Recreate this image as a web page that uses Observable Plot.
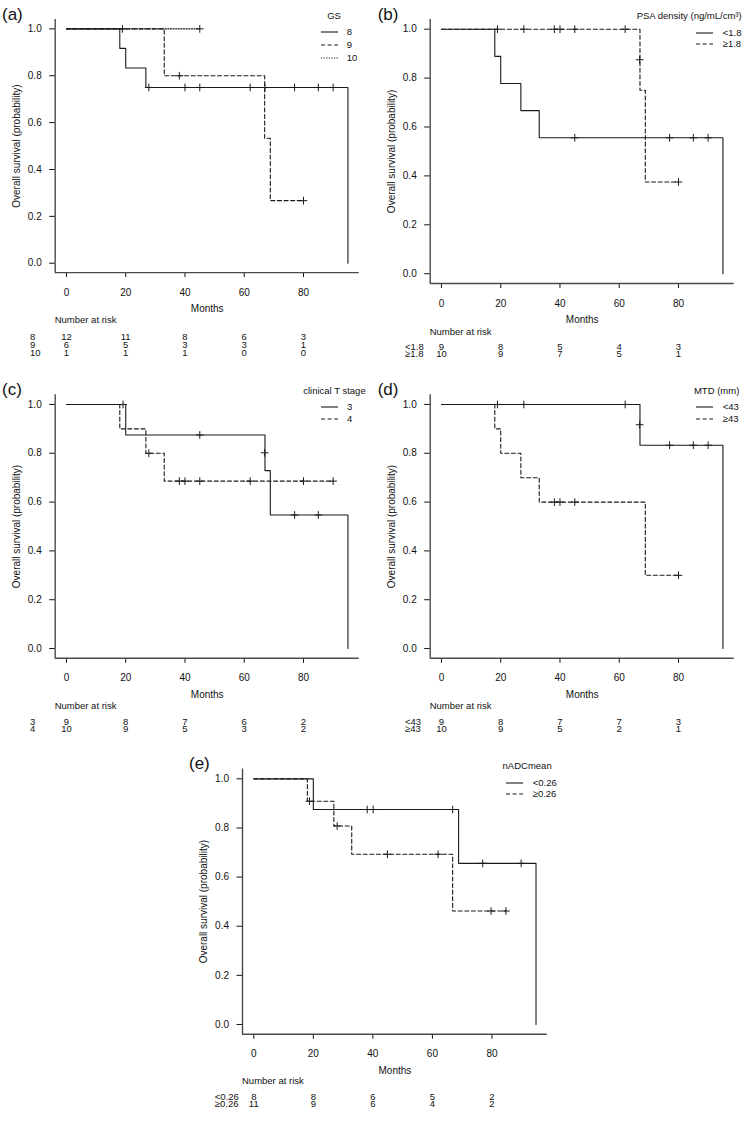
<!DOCTYPE html>
<html>
<head>
<meta charset="utf-8">
<script src="https://cdn.jsdelivr.net/npm/d3@7"></script>
<script src="https://cdn.jsdelivr.net/npm/@observablehq/plot@0.6"></script>
<style>
  html, body { margin: 0; padding: 0; background: #fff; }
  #figure {
    position: relative; width: 750px; height: 1125px; overflow: hidden;
    font-family: "Liberation Sans", Arial, Helvetica, sans-serif; color: #111;
  }
  #figure .lbl { position: absolute; white-space: nowrap; }
</style>
</head>
<body>
<div id="figure"></div>
<script>
// ---- shared axes ----
const monthTicks = [0, 20, 40, 60, 80];
const survTicks = [0, 0.2, 0.4, 0.6, 0.8, 1.0];

// ---- (a) Gleason score ----
const gsGroups = ["8", "9", "10"];
const gs8Time = [0, 18, 20, 26.8, 95];
const gs8Surv = [1, 0.917, 0.833, 0.75, 0];
const gs8CensorTime = [27.8, 40, 45, 62, 67, 77, 85, 90];
const gs8CensorSurv = [0.75, 0.75, 0.75, 0.75, 0.75, 0.75, 0.75, 0.75];
const gs9Time = [0, 33, 66.9, 68.8, 80];
const gs9Surv = [1, 0.8, 0.533, 0.267, 0.267];
const gs9CensorTime = [18.9, 38.1, 80];
const gs9CensorSurv = [1, 0.8, 0.267];
const gs10Time = [0, 45];
const gs10Surv = [1, 1];
const gs10CensorTime = [45];
const gs10CensorSurv = [1];
const gs8Risk = [12, 11, 8, 6, 3];
const gs9Risk = [6, 5, 3, 3, 1];
const gs10Risk = [1, 1, 1, 0, 0];

// ---- (b) PSA density ----
const psaGroups = ["<1.8", "≥1.8"];
const psaLowTime = [0, 18, 20, 26.8, 33, 95];
const psaLowSurv = [1, 0.889, 0.778, 0.667, 0.556, 0];
const psaLowCensorTime = [45, 77, 85, 90];
const psaLowCensorSurv = [0.556, 0.556, 0.556, 0.556];
const psaHighTime = [0, 67, 68.8, 80];
const psaHighSurv = [1, 0.75, 0.375, 0.375];
const psaHighCensorTime = [18.9, 27.8, 38.1, 40, 45, 62, 66.9, 80];
const psaHighCensorSurv = [1, 1, 1, 1, 1, 1, 0.875, 0.375];
const psaLowRisk = [9, 8, 5, 4, 3];
const psaHighRisk = [10, 9, 7, 5, 1];

// ---- (c) clinical T stage ----
const tGroups = ["3", "4"];
const t3Time = [0, 20, 67, 68.8, 95];
const t3Surv = [1, 0.875, 0.729, 0.547, 0];
const t3CensorTime = [19.1, 45, 66.9, 77, 85];
const t3CensorSurv = [1, 0.875, 0.802, 0.547, 0.547];
const t4Time = [0, 18, 26.8, 33, 90];
const t4Surv = [1, 0.9, 0.8, 0.686, 0.686];
const t4CensorTime = [27.8, 38.1, 40, 45, 62, 80, 90];
const t4CensorSurv = [0.8, 0.686, 0.686, 0.686, 0.686, 0.686, 0.686];
const t3Risk = [9, 8, 7, 6, 2];
const t4Risk = [10, 9, 5, 3, 2];

// ---- (d) maximum tumour diameter ----
const mtdGroups = ["<43", "≥43"];
const mtdLowTime = [0, 67, 95];
const mtdLowSurv = [1, 0.833, 0];
const mtdLowCensorTime = [18.9, 27.8, 62, 66.9, 77, 85, 90];
const mtdLowCensorSurv = [1, 1, 1, 0.917, 0.833, 0.833, 0.833];
const mtdHighTime = [0, 18, 20, 26.8, 33, 68.8, 80];
const mtdHighSurv = [1, 0.9, 0.8, 0.7, 0.6, 0.3, 0.3];
const mtdHighCensorTime = [38.1, 40, 45, 80];
const mtdHighCensorSurv = [0.6, 0.6, 0.6, 0.3];
const mtdLowRisk = [9, 8, 7, 7, 3];
const mtdHighRisk = [10, 9, 5, 2, 1];

// ---- (e) normalised mean ADC ----
const adcGroups = ["<0.26", "≥0.26"];
const adcLowTime = [0, 20, 68.8, 94.8];
const adcLowSurv = [1, 0.875, 0.656, 0];
const adcLowCensorTime = [38.1, 40.1, 66.8, 76.9, 89.8];
const adcLowCensorSurv = [0.875, 0.875, 0.875, 0.656, 0.656];
const adcHighTime = [0, 18, 26.9, 32.9, 66.8, 84.7];
const adcHighSurv = [1, 0.909, 0.808, 0.693, 0.462, 0.462];
const adcHighCensorTime = [18.7, 28, 44.9, 61.9, 79.7, 84.7];
const adcHighCensorSurv = [0.909, 0.808, 0.693, 0.693, 0.462, 0.462];
const adcLowRisk = [8, 8, 6, 5, 2];
const adcHighRisk = [11, 9, 6, 4, 2];

// ---- styling ----
const FONT = '"Liberation Sans", Arial, Helvetica, sans-serif';
const INK = "#1a1a1a";
const AXIS = "#4a4a4a";
const DASHED = "4,2.6";
const DOTTED = "1.2,1.4";

const figure = document.getElementById("figure");

function addLabel(text, x, y, size, anchor = "start") {
  const el = document.createElement("div");
  el.className = "lbl";
  el.textContent = text;
  const tx = anchor === "start" ? "0" : anchor === "end" ? "-100%" : "-50%";
  el.style.cssText += `left:${x}px;top:${y}px;font-size:${size}px;line-height:${size}px;transform:translate(${tx},-50%);`;
  figure.appendChild(el);
}

function addSwatch(x1, x2, y, dash) {
  const svg = d3.create("svg")
    .attr("width", x2 - x1).attr("height", 4)
    .style("position", "absolute").style("left", `${x1}px`).style("top", `${y - 2}px`);
  svg.append("line")
    .attr("x1", 0).attr("x2", x2 - x1).attr("y1", 2).attr("y2", 2)
    .attr("stroke", INK).attr("stroke-width", 1.1)
    .attr("stroke-dasharray", dash || null);
  figure.appendChild(svg.node());
}

function drawPanel(panel) {
  const L = panel.layout;
  const xMax = d3.max(panel.series, s => d3.max(s.time));
  const xDomain = [-0.04 * xMax, 1.04 * xMax];
  const yDomain = [-0.04, 1.04];
  const marginRight = L.width - L.frameRight;
  const marginBottom = L.height - L.frameBottom;

  const marks = [
    Plot.ruleX([xDomain[0]], {stroke: AXIS, strokeWidth: 1.4}),
    Plot.ruleY([yDomain[0]], {stroke: AXIS, strokeWidth: 1.4})
  ];
  for (const s of panel.series) {
    const pts = s.time.map((t, i) => ({t, p: s.surv[i]}));
    marks.push(Plot.line(pts, {
      x: "t", y: "p", curve: "step-after",
      stroke: INK, strokeWidth: 1.1, strokeDasharray: s.dash || null
    }));
  }
  for (const s of panel.series) {
    const cens = s.censorTime.map((t, i) => ({t, p: s.censorSurv[i]}));
    marks.push(Plot.dot(cens, {
      x: "t", y: "p", symbol: "plus", r: 2.6, stroke: INK, strokeWidth: 1
    }));
  }

  const chart = Plot.plot({
    width: L.width, height: L.height,
    marginLeft: L.frameLeft, marginRight, marginTop: L.frameTop, marginBottom,
    style: {fontFamily: FONT, fontSize: "10px", color: "#111", background: "transparent", overflow: "visible"},
    x: {
      domain: xDomain, ticks: monthTicks, tickSize: 5, tickPadding: 11,
      label: "Months", labelAnchor: "center", labelArrow: false, labelOffset: 39.5
    },
    y: {
      domain: yDomain, ticks: survTicks, tickFormat: d3.format(".1f"),
      tickSize: 5.5, tickPadding: 8,
      label: "Overall survival (probability)", labelAnchor: "center", labelArrow: false, labelOffset: 42.7
    },
    marks
  });
  chart.style.position = "absolute";
  chart.style.left = `${L.left}px`;
  chart.style.top = `${L.top}px`;
  figure.appendChild(chart);

  // number-at-risk table, sharing the panel's month scale
  const riskRows = panel.series.flatMap(s => monthTicks.map((t, i) => ({t, g: s.group, n: s.risk[i]})));
  const groups = panel.series.map(s => s.group);
  const tableTop = L.riskRows[0] - 10;
  const tableHeight = L.riskRows[1] - tableTop + 10;
  const table = Plot.plot({
    width: L.width, height: tableHeight,
    marginLeft: L.frameLeft, marginRight, marginTop: 0, marginBottom: 0,
    style: {fontFamily: FONT, fontSize: "9.5px", color: "#111", background: "transparent", overflow: "visible"},
    x: {domain: xDomain, axis: null},
    y: {type: "point", padding: 0, domain: groups, range: [L.riskRows[0] - tableTop, L.riskRows[1] - tableTop], axis: null},
    marks: [
      Plot.text(groups, {y: d => d, frameAnchor: "left", dx: L.groupX - L.frameLeft, textAnchor: "start", fill: "#111", fontSize: 9.5}),
      Plot.text(riskRows, {x: "t", y: "g", text: "n", fill: "#111", fontSize: 9.5})
    ]
  });
  table.style.position = "absolute";
  table.style.left = `${L.left}px`;
  table.style.top = `${L.top + tableTop}px`;
  figure.appendChild(table);

  addLabel("Number at risk", L.left + L.frameLeft, L.top + L.riskTitleY, 9.5);
  addLabel(panel.tag, L.left + L.tag[0], L.top + L.tag[1], 17);

  // legend
  const G = L.legend;
  addLabel(panel.legendTitle, L.left + G.titleX, L.top + G.titleY, 9.5, G.titleAnchor);
  panel.series.forEach((s, i) => {
    const y = L.top + G.rows[i];
    addSwatch(L.left + G.line[0], L.left + G.line[1], y, s.dash);
    addLabel(s.group, L.left + G.textX, y, 9.5);
  });
}

const panels = [
  {
    tag: "(a)", legendTitle: "GS",
    series: [
      {group: gsGroups[0], time: gs8Time, surv: gs8Surv, censorTime: gs8CensorTime, censorSurv: gs8CensorSurv, risk: gs8Risk},
      {group: gsGroups[1], time: gs9Time, surv: gs9Surv, censorTime: gs9CensorTime, censorSurv: gs9CensorSurv, risk: gs9Risk, dash: DASHED},
      {group: gsGroups[2], time: gs10Time, surv: gs10Surv, censorTime: gs10CensorTime, censorSurv: gs10CensorSurv, risk: gs10Risk, dash: DOTTED}
    ],
    layout: {
      left: 0, top: 0, width: 375, height: 318,
      frameLeft: 54.7, frameRight: 358.7, frameTop: 19.0, frameBottom: 272.1,
      riskTitleY: 320, riskRows: [336, 352], groupX: 29.5, tag: [2, 14],
      legend: {titleX: 334, titleY: 15.5, titleAnchor: "middle", rows: [31.7, 44.5, 57.5], line: [321, 338], textX: 346.7}
    }
  },
  {
    tag: "(b)", legendTitle: "PSA density (ng/mL/cm³)",
    series: [
      {group: psaGroups[0], time: psaLowTime, surv: psaLowSurv, censorTime: psaLowCensorTime, censorSurv: psaLowCensorSurv, risk: psaLowRisk},
      {group: psaGroups[1], time: psaHighTime, surv: psaHighSurv, censorTime: psaHighCensorTime, censorSurv: psaHighCensorSurv, risk: psaHighRisk, dash: DASHED}
    ],
    layout: {
      left: 375, top: 0, width: 375, height: 329,
      frameLeft: 54.7, frameRight: 358.7, frameTop: 18.9, frameBottom: 283.0,
      riskTitleY: 331.7, riskRows: [345.5, 353], groupX: 29.5, tag: [2.7, 13.5],
      legend: {titleX: 366.7, titleY: 16, titleAnchor: "end", rows: [32.7, 44.3], line: [321, 338.3], textX: 347.7}
    }
  },
  {
    tag: "(c)", legendTitle: "clinical T stage",
    series: [
      {group: tGroups[0], time: t3Time, surv: t3Surv, censorTime: t3CensorTime, censorSurv: t3CensorSurv, risk: t3Risk},
      {group: tGroups[1], time: t4Time, surv: t4Surv, censorTime: t4CensorTime, censorSurv: t4CensorSurv, risk: t4Risk, dash: DASHED}
    ],
    layout: {
      left: 0, top: 375, width: 375, height: 329,
      frameLeft: 54.7, frameRight: 358.7, frameTop: 19.2, frameBottom: 282.8,
      riskTitleY: 331, riskRows: [345.5, 353], groupX: 29.5, tag: [2, 14],
      legend: {titleX: 365.7, titleY: 16, titleAnchor: "end", rows: [32.3, 44.3], line: [321, 338], textX: 347}
    }
  },
  {
    tag: "(d)", legendTitle: "MTD (mm)",
    series: [
      {group: mtdGroups[0], time: mtdLowTime, surv: mtdLowSurv, censorTime: mtdLowCensorTime, censorSurv: mtdLowCensorSurv, risk: mtdLowRisk},
      {group: mtdGroups[1], time: mtdHighTime, surv: mtdHighSurv, censorTime: mtdHighCensorTime, censorSurv: mtdHighCensorSurv, risk: mtdHighRisk, dash: DASHED}
    ],
    layout: {
      left: 375, top: 375, width: 375, height: 329,
      frameLeft: 54.7, frameRight: 358.7, frameTop: 19.2, frameBottom: 282.8,
      riskTitleY: 331, riskRows: [345.5, 353], groupX: 29.5, tag: [2.7, 14],
      legend: {titleX: 364.3, titleY: 16, titleAnchor: "end", rows: [32.3, 44.3], line: [321, 338], textX: 347.7}
    }
  },
  {
    tag: "(e)", legendTitle: "nADCmean",
    series: [
      {group: adcGroups[0], time: adcLowTime, surv: adcLowSurv, censorTime: adcLowCensorTime, censorSurv: adcLowCensorSurv, risk: adcLowRisk},
      {group: adcGroups[1], time: adcHighTime, surv: adcHighSurv, censorTime: adcHighCensorTime, censorSurv: adcHighCensorSurv, risk: adcHighRisk, dash: DASHED}
    ],
    layout: {
      left: 185, top: 750, width: 380, height: 330,
      frameLeft: 57.0, frameRight: 361.8, frameTop: 18.5, frameBottom: 283.8,
      riskTitleY: 331, riskRows: [345.5, 353], groupX: 29.3, tag: [4, 13.3],
      legend: {titleX: 366.7, titleY: 16, titleAnchor: "end", rows: [32.7, 44.3], line: [321, 338.3], textX: 347.7}
    }
  }
];

panels.forEach(drawPanel);
</script>
</body>
</html>
